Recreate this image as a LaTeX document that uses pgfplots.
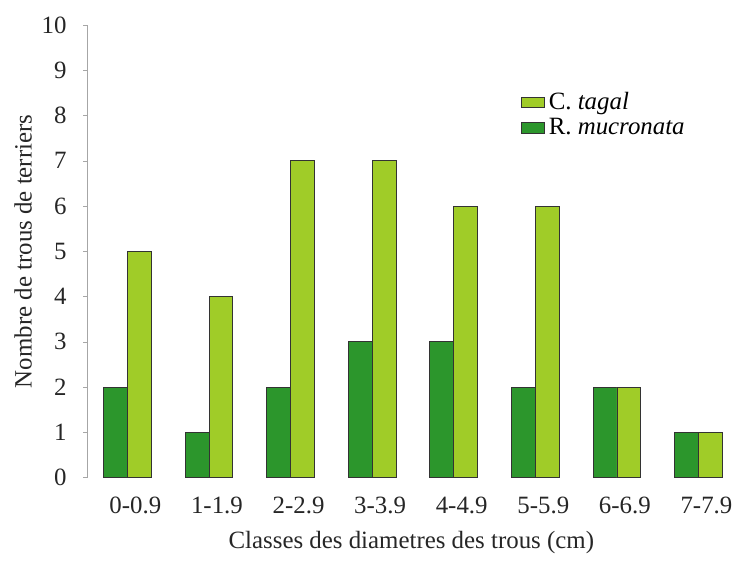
\documentclass[border=0pt]{standalone}
\usepackage{pgfplots}
\pgfplotsset{compat=1.18}
\usepackage{fontspec}
\setmainfont{Liberation Serif}
\definecolor{dgreen}{RGB}{44,150,44}
\definecolor{lgreen}{RGB}{160,204,40}
\begin{document}
\begin{tikzpicture}
\begin{axis}[
  scale only axis,
  width=325.5pt, height=227.5pt,
  xmin=-0.49, xmax=7.45,
  ymin=0, ymax=10,
  axis lines=left,
  x axis line style={draw=none,-},
  y axis line style={draw=black!35,-},
  ytick={0,...,10},
  xtick={0,...,7},
  xticklabels={0-0.9,1-1.9,2-2.9,3-3.9,4-4.9,5-5.9,6-6.9,7-7.9},
  x tick label style={xshift=4pt},
  xtick style={draw=none},
  ytick style={draw=black!35},
  tick align=outside,
  major tick length=2pt,
  ybar=0pt,
  bar width=12pt,
  /pgf/number format/assume math mode=true,
  tick label style={font=\fontsize{12.5}{14}\selectfont, text=black!85},
  label style={font=\fontsize{12.5}{14}\selectfont, text=black!85},
  yticklabel style={xshift=-5pt},
  xticklabel style={yshift=-4pt},
  xlabel={Classes des diametres des trous (cm)},
  ylabel={Nombre de trous de terriers},
  xlabel style={yshift=-2pt},
  ylabel style={yshift=-2pt},
  legend style={draw=none, fill=none, at={(0.66,0.87)}, anchor=north west,
    font=\fontsize{12.5}{14}\selectfont, row sep=-1pt},
  legend cell align=left,
  reverse legend,
  legend image code/.code={\draw[#1, draw=black!80] (0cm,-0.09cm) rectangle (0.4cm,0.09cm);},
  clip=false,
]
\addplot[fill=dgreen, draw=black!80] coordinates {(0,2) (1,1) (2,2) (3,3) (4,3) (5,2) (6,2) (7,1)};
\addlegendentry{R.~\textit{mucronata}}
\addplot[fill=lgreen, draw=black!80] coordinates {(0,5) (1,4) (2,7) (3,7) (4,6) (5,6) (6,2) (7,1)};
\addlegendentry{C.~\textit{tagal}}
\path (rel axis cs:-0.135,-0.193) rectangle (rel axis cs:1,1.055);
\end{axis}
\end{tikzpicture}
\end{document}
